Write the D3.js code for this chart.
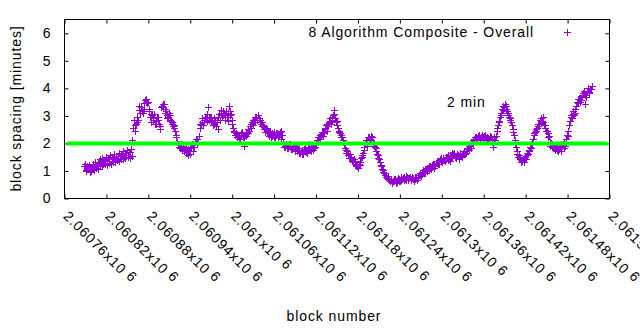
<!DOCTYPE html>
<html>
<head>
<meta charset="utf-8">
<script src="https://cdn.jsdelivr.net/npm/d3@7"></script>
<style>
html,body{margin:0;padding:0;background:#fff;}
svg{display:block;}
text{font-family:"Liberation Sans",Arial,sans-serif;font-size:14px;letter-spacing:0.9px;fill:#000;}
</style>
</head>
<body>
<script>
// ---- data ----
// block spacing sampled every block: three interleaved runs (start, start+1, start+2, step 3)
const blockStart = 2060789;
const blockStep = 3;
const spacingA = [
1.15,1.02,1.08,0.98,1.12,1.2,1.15,1.28,1.32,1.25,
1.38,1.33,1.42,1.36,1.47,1.40,1.52,1.45,1.55,1.50,
1.62,1.55,1.68,2.1,2.45,2.75,3.2,3.3,3.1,3.55,
3.45,3.15,2.75,2.9,2.8,2.85,2.6,3.35,3.4,3.15,
2.95,3.0,2.7,2.55,2.2,1.85,1.95,1.82,1.75,1.65,
1.72,1.8,1.95,2.05,2.15,2.55,2.75,2.85,2.95,3.3,
2.9,2.8,2.7,2.6,2.95,3.1,3.15,3.0,2.95,3.35,
3.05,2.55,2.3,2.2,2.25,2.3,1.88,2.25,2.35,2.6,
2.75,2.85,2.95,3.0,2.85,2.6,2.5,2.4,2.35,2.2,
2.3,2.2,2.35,2.25,2.45,1.95,1.85,1.9,1.85,1.9,
1.82,1.88,1.75,1.65,1.7,1.78,1.72,1.85,1.8,1.75,
1.85,2.1,2.2,2.3,2.4,2.55,2.7,2.8,2.95,3.2,
2.75,2.55,2.35,2.2,1.95,1.65,1.55,1.45,1.35,1.25,
1.15,1.25,1.45,1.65,2.0,2.1,2.2,2.12,1.95,1.8,
1.55,1.3,1.05,0.9,0.78,0.7,0.6,0.55,0.62,0.58,
0.68,0.65,0.72,0.7,0.75,0.72,0.65,0.72,0.68,0.78,
0.85,0.92,0.95,1.02,1.08,1.15,1.12,1.2,1.28,1.32,
1.38,1.45,1.35,1.48,1.42,1.55,1.6,1.52,1.6,1.45,
1.58,1.65,1.72,1.8,1.88,2.0,2.15,2.2,2.25,2.15,
2.2,2.25,2.18,2.1,2.2,1.85,2.1,2.45,2.8,3.1,
3.35,3.25,3.1,2.85,2.65,2.3,1.85,1.5,1.4,1.35,
1.45,1.55,1.7,1.8,2.15,2.4,2.55,2.7,2.9,2.75,
2.55,2.35,2.05,1.95,1.8,1.9,1.72,1.85,1.9,2.0,
2.15,2.45,2.95,3.05,3.1,3.5,3.6,3.55,3.8,3.4,
3.9,3.85,4.05
];
const spacingB = [
1.22,1.15,1.2,1.12,1.25,1.32,1.28,1.4,1.45,1.38,
1.5,1.45,1.55,1.48,1.6,1.52,1.62,1.58,1.7,1.62,
1.75,1.68,1.78,
2.55,2.65,
2.95,3.35,3.15,3.25,3.6,3.5,2.95,3.0,3.05,2.7,
2.95,2.5,3.4,3.25,3.0,3.1,2.8,2.6,2.45,2.05,
1.95,1.82,1.9,1.62,1.78,1.6,1.95,1.85,2.15,2.05,
2.7,2.9,2.75,3.05,2.85,2.95,2.65,2.85,2.75,3.05,
3.2,3.0,2.85,3.1,3.0,2.85,
2.4,2.35,2.3,2.15,2.4,2.2,2.35,2.5,2.7,2.65,
2.95,2.85,2.9,2.7,2.65,2.4,2.5,2.25,2.35,2.4,
2.3,2.2,2.4,2.3,
1.85,1.95,1.8,1.95,1.78,1.9,1.7,1.8,1.72,1.6,
1.85,1.65,1.95,1.72,1.9,1.95,
2.2,2.15,2.4,2.35,2.65,2.6,2.9,2.85,3.05,2.65,
2.45,2.3,2.05,
1.8,1.7,1.45,1.5,1.3,1.35,1.2,1.3,1.55,1.75,
2.1,2.2,2.15,2.2,1.9,1.7,1.45,1.2,
1.0,0.82,0.72,0.65,0.68,0.62,0.7,0.66,0.6,0.78,
0.65,0.8,0.66,0.78,0.75,0.62,0.78,0.72,0.92,
0.88,1.05,0.98,1.15,1.05,1.22,1.15,1.35,1.25,1.45,
1.38,1.5,1.38,1.55,1.48,1.65,1.45,1.55,1.62,1.5,
1.72,1.65,1.88,1.8,2.1,2.2,2.15,2.3,2.2,2.12,
2.28,2.22,2.2,2.15,2.2,
2.25,2.65,2.95,3.25,3.3,3.35,3.0,2.9,2.5,2.1,
1.7,1.55,1.32,1.42,1.5,1.65,1.75,1.95,2.3,2.5,
2.7,2.85,2.8,2.65,2.45,2.2,1.9,1.85,1.9,1.75,
1.85,1.7,1.95,1.9,2.3,2.65,3.0,3.15,3.25,3.6,
3.55,3.75,3.9,3.65,4.0,3.95
];
const spacingC = [
0.98,1.05,0.95,1.08,1.0,1.1,1.05,1.15,1.18,1.22,
1.2,1.28,1.25,1.32,1.3,1.38,1.35,1.42,1.4,1.45,
1.48,1.45,1.52,
2.85,2.7,
2.85,3.1,3.25,3.45,3.5,3.25,3.05,2.85,2.7,2.95,
2.7,3.3,3.3,3.1,2.9,2.85,2.75,2.65,2.3,1.95,
1.8,1.75,1.7,1.85,1.55,1.82,1.72,2.05,1.98,2.25,
2.65,2.65,2.95,2.8,2.95,2.75,2.9,2.6,2.5,2.85,
2.95,3.1,3.15,2.8,3.15,2.7,
2.45,2.2,2.15,2.35,2.2,2.3,2.4,2.45,2.55,2.85,
2.75,3.0,2.85,2.75,2.5,2.55,2.35,2.45,2.25,2.2,
2.35,2.3,2.15,2.05,
1.9,1.8,1.95,1.78,1.85,1.72,1.8,1.62,1.58,1.75,
1.68,1.8,1.75,1.9,1.82,2.0,
2.05,2.3,2.25,2.5,2.45,2.75,2.7,3.0,2.9,2.8,
2.4,2.2,2.1,
1.75,1.55,1.6,1.38,1.4,1.18,1.1,1.2,1.5,1.85,
1.9,2.15,2.25,2.05,1.85,1.6,1.4,1.15,
0.95,0.85,0.8,0.62,0.58,0.68,0.56,0.72,0.62,0.7,
0.78,0.64,0.72,0.68,0.7,0.78,0.65,0.85,0.8,
1.0,0.9,1.08,1.0,1.2,1.08,1.28,1.22,1.4,1.3,
1.38,1.42,1.55,1.35,1.62,1.5,1.58,1.42,1.52,1.65,
1.58,1.78,1.75,1.95,1.95,2.1,2.25,2.18,2.28,2.25,
2.15,2.1,2.25,2.05,2.1,
2.55,2.75,3.0,3.2,3.4,3.15,2.95,2.75,2.4,1.95,
1.6,1.45,1.38,1.3,1.4,1.6,1.85,2.0,2.35,2.45,
2.6,2.8,2.95,2.65,2.45,2.25,2.0,1.8,1.75,1.85,
1.78,1.95,1.8,2.05,2.25,2.8,2.9,3.0,3.35,3.45,
3.5,3.7,3.75,3.85,3.8,3.95
];
const targetSpacing = [2];
const xTicks = [2060760,2060820,2060880,2060940,2061000,2061060,2061120,2061180,2061240,2061300,2061360,2061420,2061480,2061540];
const xTickLabels = ["2.06076","2.06082","2.06088","2.06094","2.061","2.06106","2.06112","2.06118","2.06124","2.0613","2.06136","2.06142","2.06148","2.06154"];
const yTicks = [0,1,2,3,4,5,6];
const seriesName = "8 Algorithm Composite - Overall";
const targetLabel = "2 min";

// ---- chart ----
const W = 640, H = 330;
const L = 64.5, R = 609.5, T = 19.5, B = 198.5;
const svg = d3.select("body").append("svg").attr("width", W).attr("height", H);

const x = d3.scaleLinear().domain([2060760, 2061540]).range([L, R]);
const y = d3.scaleLinear().domain([0, 6.5]).range([B, T]);

const points = [];
[spacingA, spacingB, spacingC].forEach((arr, k) => {
  arr.forEach((v, i) => points.push({b: blockStart + k + i * blockStep, v}));
});
points.sort((a, b) => a.b - b.b);
const plus = "M-3.5,0H3.5M0,-3.5V3.5";
const purple = "#9400d3";

// axes
const gL = svg.append("g").attr("transform", `translate(${L},0)`)
  .call(d3.axisLeft(y).tickValues(yTicks).tickSize(-4).tickPadding(13).tickFormat(d3.format("d")));
const gR = svg.append("g").attr("transform", `translate(${R},0)`)
  .call(d3.axisRight(y).tickValues(yTicks).tickSize(-4).tickFormat(""));
const gB = svg.append("g").attr("transform", `translate(0,${B})`)
  .call(d3.axisBottom(x).tickValues(xTicks).tickSize(-4).tickFormat((d, i) => xTickLabels[i]));
const gT = svg.append("g").attr("transform", `translate(0,${T})`)
  .call(d3.axisTop(x).tickValues(xTicks).tickSize(-4).tickFormat(""));
[gL, gR, gB, gT].forEach(g => {
  g.select(".domain").remove();
  g.selectAll("line").attr("stroke", "#000").attr("stroke-width", 1);
  g.selectAll("text").attr("font-family", null).attr("font-size", null).attr("fill", "#000");
});
gB.selectAll(".tick text")
  .attr("x", 0).attr("y", 0).attr("dy", null)
  .attr("text-anchor", "start")
  .attr("transform", "translate(-2.5,18.5) rotate(45)")
  .each(function(d, i) {
    const t = d3.select(this);
    t.text(xTickLabels[i] + "x10");
    t.append("tspan").attr("dy", -2).text(" 6");
  });

// frame
svg.append("rect").attr("x", L).attr("y", T).attr("width", R - L).attr("height", B - T)
  .attr("fill", "none").attr("stroke", "#000").attr("stroke-width", 1);

// points
svg.append("g").attr("shape-rendering", "crispEdges")
  .selectAll("path").data(points).join("path")
  .attr("d", plus)
  .attr("transform", d => `translate(${x(d.b)},${y(d.v)})`)
  .attr("stroke", purple).attr("stroke-width", 1).attr("fill", "none");

// 2 min line
svg.append("g").selectAll("line").data(targetSpacing).join("line")
  .attr("x1", L + 2).attr("x2", R - 2)
  .attr("y1", d => y(d)).attr("y2", d => y(d))
  .attr("stroke", "#00ff00").attr("stroke-width", 4);

// key
svg.append("text").attr("x", 534).attr("y", 36.5).attr("text-anchor", "end").text(seriesName);
svg.append("path").attr("d", plus).attr("transform", "translate(567,32)")
  .attr("shape-rendering", "crispEdges")
  .attr("stroke", purple).attr("stroke-width", 1).attr("fill", "none");
svg.append("text").attr("x", 447).attr("y", 107).text(targetLabel);

// axis titles
svg.append("text").attr("transform", "translate(21,108.5) rotate(-90)")
  .attr("text-anchor", "middle").text("block spacing [minutes]");
svg.append("text").attr("x", 334).attr("y", 321).attr("text-anchor", "middle").text("block number");
</script>
</body>
</html>
